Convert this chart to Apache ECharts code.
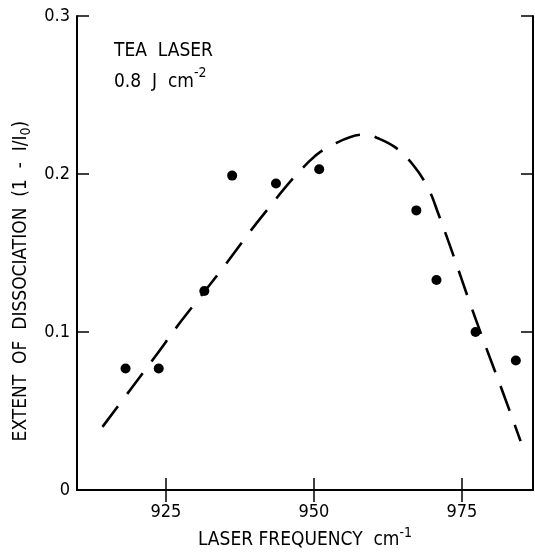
<!DOCTYPE html>
<html lang="en">
<head>
    <meta charset="utf-8" />
    <title>Extent of dissociation</title>
    <script type="text/javascript" src="https://cdn.jsdelivr.net/npm/echarts@6/dist/echarts.min.js"></script>
    <style type="text/css">
        body { margin: 0; background: #fff; }
    </style>
</head>
<body>
    <div id="main" style="width:535px;height:555px;"></div>
    <script type="text/javascript">
        // measured points (cm-1, 1 - I/I0)
        var freq = [918.2, 923.8, 931.5, 936.2, 943.6, 950.9, 967.3, 970.7, 977.3, 984.1];
        var extent = [0.077, 0.077, 0.126, 0.199, 0.194, 0.203, 0.177, 0.133, 0.100, 0.082];

        // dashed guide curve
        var curveX = [914.3, 919.1, 923.3, 927.4, 933.9, 941.4, 949.2, 953.4, 958.7, 960.6, 963.7, 966.7, 969.3, 971.0, 973.7, 976.1, 979.0, 982.0, 984.9];
        var curveY = [0.040, 0.064, 0.085, 0.106, 0.137, 0.174, 0.208, 0.219, 0.225, 0.223, 0.217, 0.206, 0.191, 0.175, 0.147, 0.121, 0.091, 0.061, 0.031];

        var xTicks = [925, 950, 975];

        var font = "'DejaVu Sans Condensed', 'Liberation Sans Narrow', sans-serif";
        var myChart = echarts.init(document.getElementById('main'));

        var pts = [];
        for (var i = 0; i < freq.length; i++) pts.push([freq[i], extent[i]]);
        var curve = [];
        for (var j = 0; j < curveX.length; j++) curve.push([curveX[j], curveY[j]]);

        var axisLine = { lineStyle: { color: '#000', width: 2 } };
        var tick = { inside: true, length: 12, lineStyle: { color: '#000', width: 1.5 } };

        var option = {
            animation: false,
            grid: { left: 77, right: 2, top: 16, bottom: 61 },
            xAxis: [{
                type: 'value', min: 910, max: 987,
                axisLine: axisLine,
                axisTick: Object.assign({ customValues: xTicks }, tick),
                axisLabel: { customValues: xTicks, margin: 13, color: '#000', fontFamily: font, fontSize: 18 },
                splitLine: { show: false },
                name: '{a|LASER FREQUENCY  cm}{sup|-1}',
                nameLocation: 'middle', nameGap: 34,
                nameTextStyle: {
                    rich: {
                        a: { fontFamily: font, fontSize: 19, color: '#000', lineHeight: 24, verticalAlign: 'bottom' },
                        sup: { fontFamily: font, fontSize: 14, color: '#000', lineHeight: 14, verticalAlign: 'top' }
                    }
                }
            }, {
                type: 'value', min: 910, max: 987, position: 'top',
                axisLine: axisLine,
                axisTick: Object.assign({ customValues: xTicks }, tick),
                axisLabel: { show: false },
                splitLine: { show: false }
            }],
            yAxis: [{
                type: 'value', min: 0, max: 0.3, interval: 0.1,
                axisLine: axisLine,
                axisTick: tick,
                axisLabel: { margin: 7, color: '#000', fontFamily: font, fontSize: 18 },
                splitLine: { show: false },
                name: '{a|EXTENT  OF  DISSOCIATION  (1  -  I/I}{sub|0}{a|)}',
                nameLocation: 'middle', nameGap: 33, nameRotate: 90,
                nameTextStyle: {
                    padding: [0, 56, 0, 0],
                    rich: {
                        a: { fontFamily: font, fontSize: 19, color: '#000', lineHeight: 22, verticalAlign: 'top' },
                        sub: { fontFamily: font, fontSize: 14, color: '#000', lineHeight: 14, verticalAlign: 'bottom' }
                    }
                }
            }, {
                type: 'value', min: 0, max: 0.3, interval: 0.1, position: 'right',
                axisLine: axisLine,
                axisTick: tick,
                axisLabel: { show: false },
                splitLine: { show: false }
            }],
            graphic: [{
                type: 'text', left: 114, top: 42,
                style: { text: 'TEA  LASER', font: '19px ' + font, fill: '#000' }
            }, {
                type: 'text', left: 114, top: 66,
                style: {
                    text: '{a|0.8  J  cm}{sup|-2}',
                    rich: {
                        a: { fontFamily: font, fontSize: 19, fill: '#000', lineHeight: 26, verticalAlign: 'bottom' },
                        sup: { fontFamily: font, fontSize: 14, fill: '#000', lineHeight: 14, verticalAlign: 'top' }
                    }
                }
            }],
            series: [{
                type: 'line',
                data: curve,
                smooth: 0.4,
                showSymbol: false,
                lineStyle: { color: '#000', width: 2.6, type: [26, 15] }
            }, {
                type: 'scatter',
                data: pts,
                symbolSize: 10,
                itemStyle: { color: '#000', opacity: 1 }
            }]
        };
        myChart.setOption(option);
    </script>
</body>
</html>
